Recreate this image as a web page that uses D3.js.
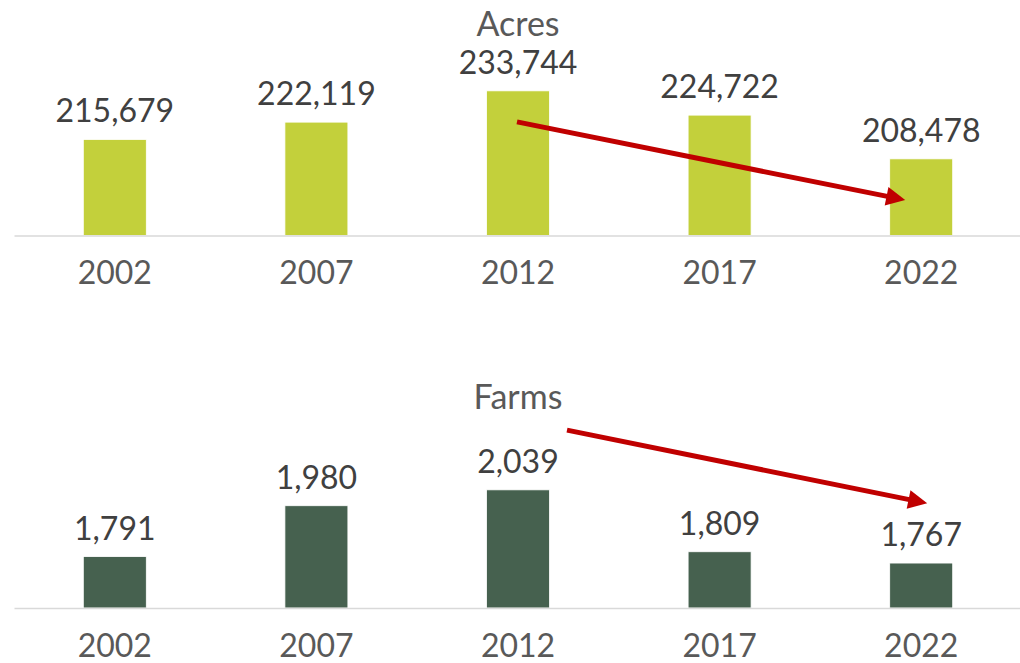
<!DOCTYPE html>
<html>
<head>
<meta charset="utf-8">
<title>Acres and Farms</title>
<style>
    body { margin: 0; background: #fff; }
    text { font-family: "Century Gothic", Lato, sans-serif; }
    .bar-label { font-size: 32px; fill: #404040; }
    .title { font-size: 34px; fill: #595959; }
    .axis text { font-size: 32px; fill: #595959; }
    .axis path { stroke: #d9d9d9; stroke-width: 1.5; }
</style>
</head>
<body>
<div id="chart"></div>
<script src="https://cdn.jsdelivr.net/npm/d3@7"></script>
<script>
    // data
    let years = ["2002", "2007", "2012", "2017", "2022"]
    let acres = [215679, 222119, 233744, 224722, 208478]
    let farms = [1791, 1980, 2039, 1809, 1767]
    let acresDomain = [180000, 240000]
    let farmsDomain = [1600, 2200]
    // arrow annotations: [year, value, x offset]
    let acresArrow = [["2012", 222200, -1], ["2022", 193200, -16]]
    let farmsArrow = [["2012", 2261, 49], ["2022", 1989, 6]]

    let width = 1020, height = 663

    let svg = d3.select("#chart")
        .append("svg")
        .attr("width", width)
        .attr("height", height)

    let x = d3.scaleBand()
        .domain(years)
        .range([14, 1022])
        .paddingInner(0.6875)
        .paddingOuter(0.34375)

    function panel(opts) {
        let y = d3.scaleLinear()
            .domain(opts.domain)
            .range([opts.base, opts.base - 161.5])

        let g = svg.append("g")

        g.selectAll(".bar")
            .data(opts.values)
            .enter()
            .append("rect")
            .attr("x", (d, i) => x(years[i]))
            .attr("y", d => y(d))
            .attr("width", x.bandwidth())
            .attr("height", d => opts.base - y(d))
            .attr("fill", opts.color)
            .attr("stroke", "#ffffff")
            .attr("stroke-width", 0.8)

        g.selectAll(".bar-label")
            .data(opts.values)
            .enter()
            .append("text")
            .attr("class", "bar-label")
            .attr("x", (d, i) => x(years[i]) + x.bandwidth() / 2)
            .attr("y", d => y(d) - 17)
            .attr("text-anchor", "middle")
            .text(d => d3.format(",")(d))

        let axis = g.append("g")
            .attr("class", "axis")
            .attr("transform", "translate(0," + opts.base + ")")
            .call(d3.axisBottom(x).tickSize(0).tickSizeOuter(0))
        axis.selectAll("text")
            .attr("y", 48.5)
            .attr("dy", 0)
        axis.attr("font-family", null).attr("font-size", null)

        g.append("text")
            .attr("class", "title")
            .attr("x", x("2012") + x.bandwidth() / 2)
            .attr("y", opts.titleY)
            .attr("text-anchor", "middle")
            .text(opts.title)

        // red trend arrow
        let p = opts.arrow.map(a => [x(a[0]) + x.bandwidth() / 2 + a[2], y(a[1])])
        let dx = p[1][0] - p[0][0], dy = p[1][1] - p[0][1]
        let len = Math.sqrt(dx * dx + dy * dy)
        let ux = dx / len, uy = dy / len
        let headLen = 19, headHalf = 9.5
        let bx = p[1][0] - ux * headLen, by = p[1][1] - uy * headLen
        g.append("line")
            .attr("x1", p[0][0])
            .attr("y1", p[0][1])
            .attr("x2", bx + ux * 2)
            .attr("y2", by + uy * 2)
            .attr("stroke", "#c00000")
            .attr("stroke-width", 5)
        g.append("polygon")
            .attr("points", [
                [p[1][0], p[1][1]],
                [bx - uy * headHalf, by + ux * headHalf],
                [bx + uy * headHalf, by - ux * headHalf]
            ].map(q => q.join(",")).join(" "))
            .attr("fill", "#c00000")
    }

    panel({ values: acres, domain: acresDomain, base: 235.5, color: "#c3d03b",
            title: "Acres", titleY: 36, arrow: acresArrow })
    panel({ values: farms, domain: farmsDomain, base: 608, color: "#46614f",
            title: "Farms", titleY: 409, arrow: farmsArrow })
</script>
</body>
</html>
